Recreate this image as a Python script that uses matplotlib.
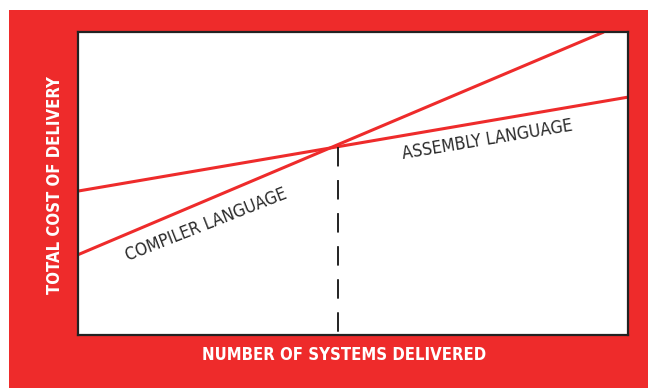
import matplotlib
matplotlib.use('Agg')
import matplotlib.pyplot as plt
from matplotlib.patches import Rectangle

### Data (axes run 0..10, no ticks)
compiler_x = [0, 9.56]
compiler_y = [2.65, 10.0]
assembly_x = [0, 10]
assembly_y = [4.75, 7.85]
breakeven_x = 4.73
breakeven_y = 6.22

red = '#ee2b2b'
font = ['Liberation Sans Narrow', 'DejaVu Sans']

fig = plt.figure(figsize=(6.48, 3.88), dpi=100)
fig.patch.set_facecolor('white')

### red panel behind everything
fig.patches.append(Rectangle((9 / 648, 0), 1 - 9 / 648, 1 - 10 / 388,
                             transform=fig.transFigure, facecolor=red,
                             edgecolor='none', zorder=-5))

ax = fig.add_axes([78 / 648, 1 - 335 / 388, 550 / 648, 303 / 388])
ax.set_zorder(2)
ax.set_facecolor('white')
ax.set_xlim(0, 10)
ax.set_ylim(0, 10)
ax.set_xticks([])
ax.set_yticks([])
for s in ax.spines.values():
    s.set_color('#222222')
    s.set_linewidth(1.6)

ax.plot(compiler_x, compiler_y, color=red, lw=2.2, solid_capstyle='butt')
ax.plot(assembly_x, assembly_y, color=red, lw=2.2, solid_capstyle='butt')
# drawn top-down so the dash pattern starts at the crossing point
ax.plot([breakeven_x, breakeven_x], [breakeven_y, 0], color='#222222', lw=1.4,
        dashes=(10, 7))

ax.text(2.33, 3.62, 'COMPILER LANGUAGE', rotation=21.5, rotation_mode='anchor',
        ha='center', va='center', fontsize=12.5, color='#2a2a2a',
        family=font, stretch='condensed')
ax.text(7.44, 6.45, 'ASSEMBLY LANGUAGE', rotation=9.5, rotation_mode='anchor',
        ha='center', va='center', fontsize=12.5, color='#2a2a2a',
        family=font, stretch='condensed')

fig.text(344 / 648, 1 - 355 / 388, 'NUMBER OF SYSTEMS DELIVERED',
         ha='center', va='center', fontsize=12, color='white', weight='bold',
         family=font, stretch='condensed')
fig.text(55 / 648, 1 - 185 / 388, 'TOTAL COST OF DELIVERY', rotation=90,
         ha='center', va='center', fontsize=12, color='white', weight='bold',
         family=font, stretch='condensed')

plt.savefig('out.png', dpi=100)
